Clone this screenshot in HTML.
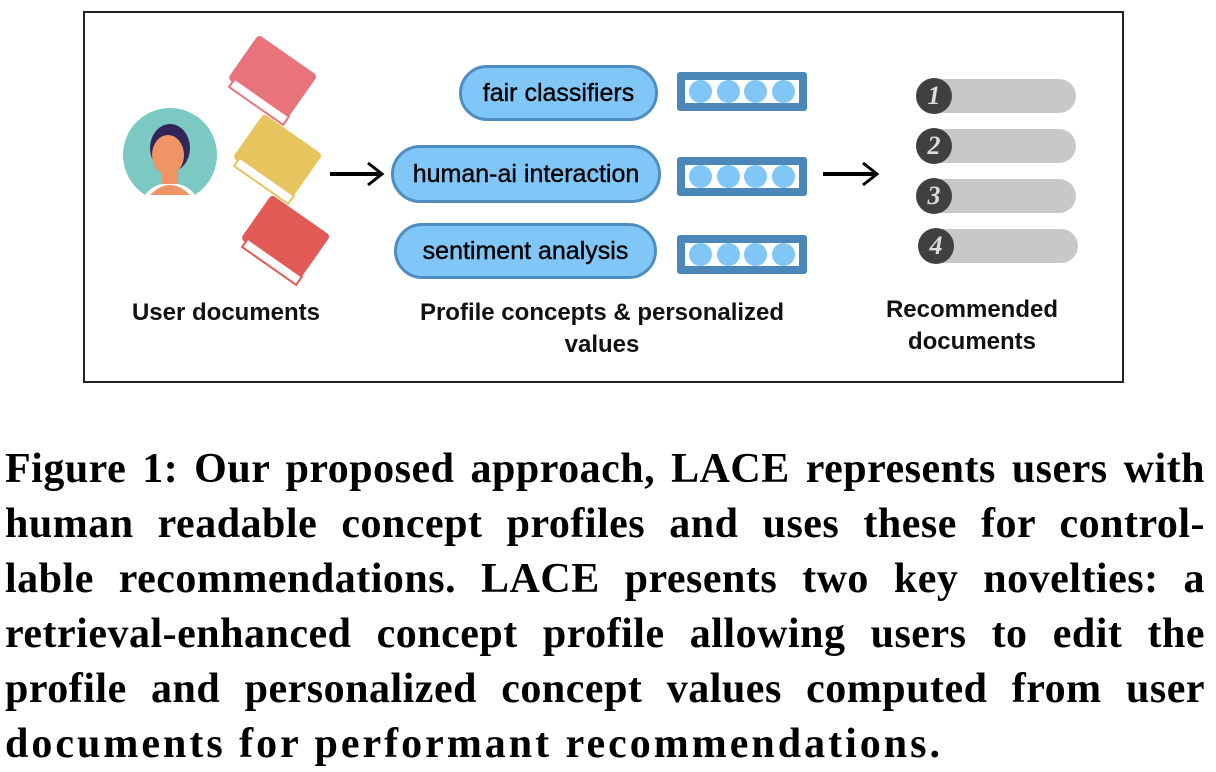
<!DOCTYPE html>
<html><head><meta charset="utf-8"><style>
body{margin:0;width:1216px;height:768px;background:#fff;overflow:hidden;position:relative;font-family:"Liberation Sans",sans-serif}
.abs{position:absolute}
.pill{position:absolute;background:#80c6f7;border:3px solid #4f8cbf;border-radius:30px;box-sizing:border-box;font-size:25px;display:flex;align-items:center;justify-content:center;color:#000;-webkit-text-stroke:0.4px #000}
.vec{position:absolute;border:8px solid #4b87b9;border-radius:3px;box-sizing:border-box;background:#fff;display:flex;align-items:center;justify-content:space-around;padding:0 2px;width:130px;height:39px;left:677px}
.vec i{width:23px;height:23px;border-radius:50%;background:#80c6f7;display:block}
.row{position:absolute;left:916px;width:160px;height:34px;background:#c8c8c8;border-radius:17px}
.row b{position:absolute;left:0;top:-1px;width:36px;height:36px;border-radius:50%;background:#404040;color:#ddd;font:italic bold 26px "Liberation Serif",serif;display:flex;align-items:center;justify-content:center}
.lbl{position:absolute;font-weight:bold;font-size:24px;text-align:center;line-height:32px;color:#111}
.cap{position:absolute;left:5px;width:1200px;font:bold 42px "Liberation Serif",serif;letter-spacing:0.5px;color:#000;white-space:nowrap}
.cap div{height:55px;line-height:55px;text-align:justify;text-align-last:justify}
</style></head><body>
<div class="abs" style="left:83px;top:11px;width:1041px;height:372px;border:2px solid #222;box-sizing:border-box"></div>
<svg class="abs" style="left:0;top:0" width="1216" height="400">
<defs><clipPath id="c"><rect x="100" y="90" width="150" height="107"/></clipPath></defs>
<g clip-path="url(#c)">
<circle cx="170" cy="155" r="47" fill="#7cc8c3"/>
<ellipse cx="170" cy="205" rx="28" ry="22" fill="#fff"/>
<rect x="162" y="168" width="16" height="16" fill="#ef9565"/>
<path d="M150 195 Q170 175 190 195 Z" fill="#ef9565"/>
<ellipse cx="170" cy="148" rx="20" ry="24" fill="#32255a"/>
<ellipse cx="168" cy="155" rx="16" ry="20" fill="#ef9565"/>
</g>
<g transform="rotate(35 272 78)"><rect x="236" y="50" width="72" height="54" rx="4" fill="#e8737a"/><rect x="242" y="100" width="66" height="10" fill="#fff" stroke="#e8737a" stroke-width="2"/></g>
<g transform="rotate(35 277 157)"><rect x="241" y="129" width="72" height="54" rx="4" fill="#e8c45e"/><rect x="247" y="179" width="66" height="10" fill="#fff" stroke="#e8c45e" stroke-width="2"/></g>
<g transform="rotate(35 285 238)"><rect x="249" y="210" width="72" height="54" rx="4" fill="#e15a55"/><rect x="255" y="260" width="66" height="10" fill="#fff" stroke="#e15a55" stroke-width="2"/></g>
<line x1="330" y1="174" x2="380" y2="174" stroke="#000" stroke-width="4"/>
<path d="M368 163 L382 174 L368 185" fill="none" stroke="#000" stroke-width="3"/>
<line x1="823" y1="174" x2="875" y2="174" stroke="#000" stroke-width="4"/>
<path d="M863 163 L877 174 L863 185" fill="none" stroke="#000" stroke-width="3"/>
</svg>
<div class="pill" style="left:459px;top:65px;width:199px;height:56px">fair classifiers</div>
<div class="pill" style="left:391px;top:145px;width:270px;height:58px">human-ai interaction</div>
<div class="pill" style="left:394px;top:223px;width:263px;height:56px">sentiment analysis</div>
<div class="vec" style="top:72px"><i></i><i></i><i></i><i></i></div>
<div class="vec" style="top:157px"><i></i><i></i><i></i><i></i></div>
<div class="vec" style="top:235px"><i></i><i></i><i></i><i></i></div>
<div class="row" style="top:79px"><b>1</b></div>
<div class="row" style="top:129px"><b>2</b></div>
<div class="row" style="top:179px"><b>3</b></div>
<div class="row" style="top:229px;left:918px"><b>4</b></div>
<div class="lbl" style="left:106px;top:297px;width:240px">User documents</div>
<div class="lbl" style="left:382px;top:297px;width:440px">Profile concepts &amp; personalized<br>values</div>
<div class="lbl" style="left:852px;top:294px;width:240px">Recommended<br>documents</div>
<div class="cap" style="top:442px">
<div>Figure 1: Our proposed approach, LACE represents users with</div>
<div>human readable concept profiles and uses these for control-</div>
<div>lable recommendations. LACE presents two key novelties: a</div>
<div>retrieval-enhanced concept profile allowing users to edit the</div>
<div>profile and personalized concept values computed from user</div>
<div style="text-align:left;text-align-last:left;letter-spacing:3px">documents for performant recommendations.</div>
</div>
</body></html>
